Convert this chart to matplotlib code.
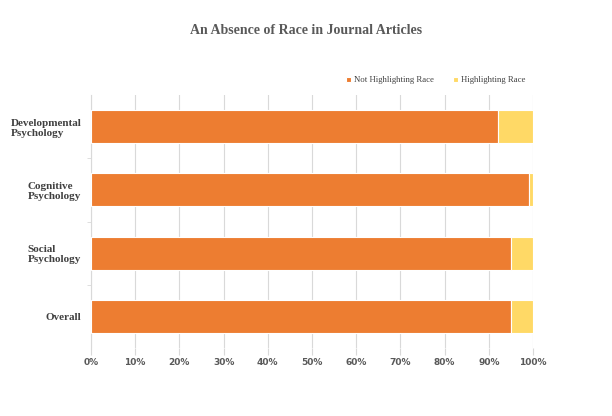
import matplotlib.pyplot as plt
import numpy as np

categories = ["Developmental\nPsychology", "Cognitive\nPsychology", "Social\nPsychology", "Overall"]
not_highlighting = [92, 99, 95, 95]
highlighting = [8, 1, 5, 5]
xticks = [0, 10, 20, 30, 40, 50, 60, 70, 80, 90, 100]

ORANGE = "#ED7D31"
YELLOW = "#FFD966"
SERIF = ["Liberation Serif", "DejaVu Serif"]

fig = plt.figure(figsize=(6.12, 4.16), dpi=100)
ax = fig.add_axes([0.1487, 0.163, 0.7222, 0.609])

y = np.arange(len(categories))
ax.barh(y, not_highlighting, height=0.52, color=ORANGE, edgecolor="white",
        linewidth=0.8, label="Not Highlighting Race", zorder=3)
ax.barh(y, highlighting, left=not_highlighting, height=0.52, color=YELLOW,
        edgecolor="white", linewidth=0.8, label="Highlighting Race", zorder=3)

ax.set_ylim(3.5, -0.5)
ax.set_xlim(0, 100)
ax.set_yticks(y)
ax.set_yticklabels(categories, family=SERIF, fontweight="bold", fontsize=8,
                   color="#404040", linespacing=1.15, multialignment="left")
ax.set_yticks([0.5, 1.5, 2.5], minor=True)
ax.tick_params(axis="y", which="major", length=0, pad=7)
ax.tick_params(axis="y", which="minor", length=3, color="#d9d9d9")
ax.set_xticks(xticks)
ax.set_xticklabels([f"{v}%" for v in xticks], fontsize=6.5, fontweight="bold",
                   color="#595959")
ax.tick_params(axis="x", length=5, color="#d9d9d9", pad=2)
ax.grid(axis="x", color="#d9d9d9", linewidth=0.8, zorder=0)
for s in ["top", "right", "bottom"]:
    ax.spines[s].set_visible(False)
ax.spines["left"].set_color("#d9d9d9")

fig.text(0.5, 0.926, "An Absence of Race in Journal Articles", ha="center",
         va="center", family=SERIF, fontweight="bold", fontsize=10,
         color="#595959")

ax.legend(loc="lower right", bbox_to_anchor=(1.0, 1.01), ncol=2, frameon=False,
          prop={"family": SERIF, "size": 6.3}, handlelength=0.6, handleheight=0.6,
          handletextpad=0.3, columnspacing=2.2, labelcolor="#404040")

fig.savefig("out.png", dpi=100)
